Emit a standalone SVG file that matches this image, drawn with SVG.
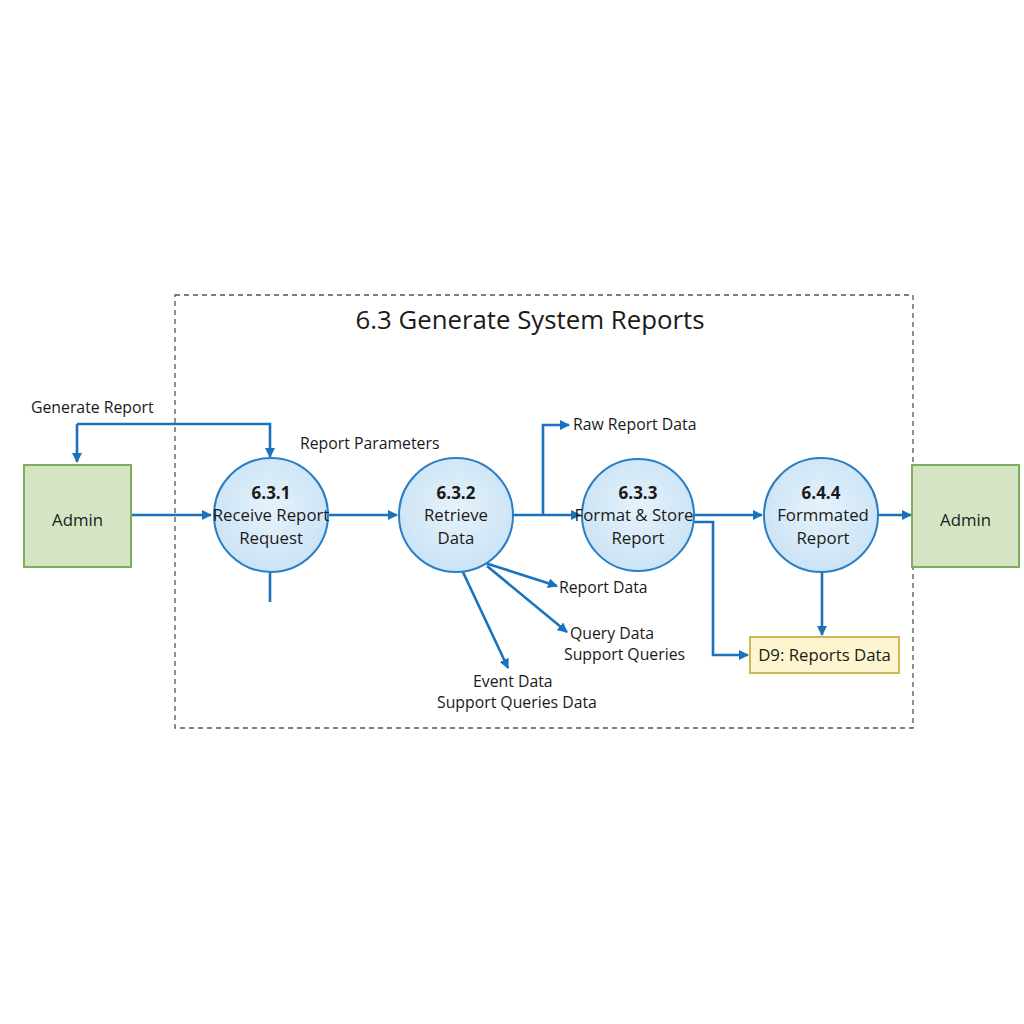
<svg xmlns="http://www.w3.org/2000/svg" width="1024" height="1024" viewBox="0 0 1024 1024">
<defs>
<marker id="arr" markerWidth="10" markerHeight="10" refX="9" refY="5" orient="auto" markerUnits="userSpaceOnUse"><path d="M0,0 L10,5 L0,10 Z" fill="#1a72bd"/></marker>
<radialGradient id="cg" cx="50%" cy="45%" r="60%"><stop offset="0" stop-color="#e6f2fb"/><stop offset="1" stop-color="#c9e2f5"/></radialGradient>
<style>
text{font-family:"Open Sans","Noto Sans","Liberation Sans",sans-serif;fill:#1a1a1a}
.c{fill:url(#cg);stroke:#2a7fc4;stroke-width:2}
.e{fill:#d5e5c4;stroke:#7fae5c;stroke-width:2}
.d{fill:#fdf5cf;stroke:#d2b65a;stroke-width:2}
.l{fill:none;stroke:#1a72bd;stroke-width:2.6}
.n{font-size:16.8px;text-anchor:middle}
.b{font-weight:bold;font-size:17px;text-anchor:middle}
.lb{font-size:15.8px}
</style>
</defs>
<rect width="1024" height="1024" fill="#ffffff"/>
<rect x="175" y="295" width="738" height="433" fill="none" stroke="#555" stroke-width="1.3" stroke-dasharray="5,4"/>
<text x="530" y="329" font-size="25.8" text-anchor="middle">6.3 Generate System Reports</text>
<g id="connectors">
<path class="l" d="M131,515 L211,515" marker-end="url(#arr)"/>
<path class="l" d="M77,424 L77,462" marker-end="url(#arr)"/>
<path class="l" d="M77,424 L270,424 L270,457" marker-end="url(#arr)"/>
<path class="l" d="M328,515 L397,515" marker-end="url(#arr)"/>
<path class="l" d="M270,571 L270,602"/>
<path class="l" d="M513,515 L580,515" marker-end="url(#arr)"/>
<path class="l" d="M543,515 L543,425 L569,425" marker-end="url(#arr)"/>
<path class="l" d="M485,563 L557,586" marker-end="url(#arr)"/>
<path class="l" d="M487,566 L567,632" marker-end="url(#arr)"/>
<path class="l" d="M462,570 L508,668" marker-end="url(#arr)"/>
<path class="l" d="M694,515 L762,515" marker-end="url(#arr)"/>
<path class="l" d="M694,522 L713,522 L713,655 L748,655" marker-end="url(#arr)"/>
<path class="l" d="M822,570 L822,635" marker-end="url(#arr)"/>
<path class="l" d="M877,515 L911,515" marker-end="url(#arr)"/>
</g>
<g id="labels">
<text class="lb" x="31" y="413">Generate Report</text>
<text class="lb" x="300" y="449">Report Parameters</text>
<text class="lb" x="573" y="430">Raw Report Data</text>
<text class="lb" x="559" y="593">Report Data</text>
<text class="lb" x="570" y="639">Query Data</text>
<text class="lb" x="564" y="660">Support Queries</text>
<text class="lb" x="473" y="687">Event Data</text>
<text class="lb" x="437" y="708">Support Queries Data</text>
</g>
<g id="admin-left"><rect class="e" x="24" y="465" width="107" height="102"/><text class="n" x="77.5" y="526" font-size="17.5">Admin</text></g>
<g id="p631"><circle class="c" cx="271" cy="515" r="57"/><text class="b" x="271" y="499">6.3.1</text><text class="n" x="271" y="521">Receive Report</text><text class="n" x="271" y="544">Request</text></g>
<g id="p632"><circle class="c" cx="456" cy="515" r="57"/><text class="b" x="456" y="499">6.3.2</text><text class="n" x="456" y="521">Retrieve</text><text class="n" x="456" y="544">Data</text></g>
<g id="p633"><circle class="c" cx="638" cy="515" r="56"/><text class="b" x="638" y="499">6.3.3</text><text class="n" x="634" y="521">Format &amp; Store</text><text class="n" x="638" y="544">Report</text></g>
<g id="p644"><circle class="c" cx="821" cy="515" r="57"/><text class="b" x="821" y="499">6.4.4</text><text class="n" x="823" y="521">Formmated</text><text class="n" x="823" y="544">Report</text></g>
<g id="admin-right"><rect class="e" x="912" y="465" width="107" height="102"/><text class="n" x="965.5" y="526" font-size="17.5">Admin</text></g>
<g id="d9"><rect class="d" x="750" y="637" width="149" height="36"/><text class="n" x="824.5" y="661" font-size="16">D9: Reports Data</text></g>
</svg>
